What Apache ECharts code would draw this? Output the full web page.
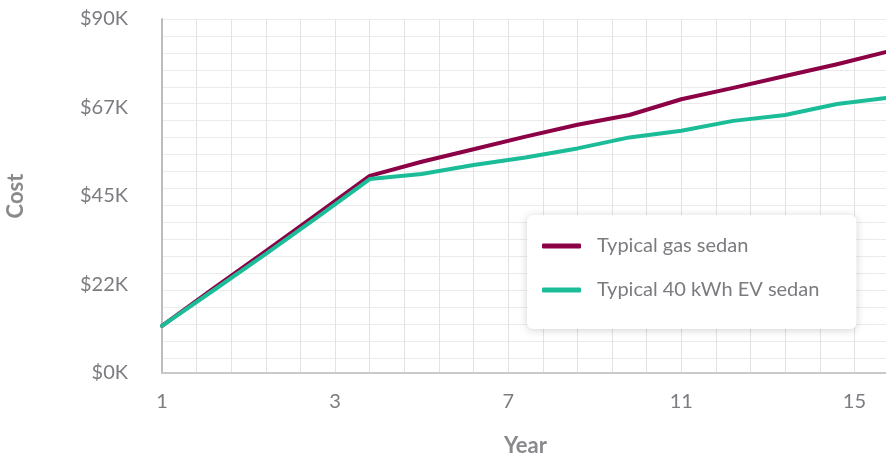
<!DOCTYPE html>
<html>
<head>
<meta charset="utf-8">
<script src="https://cdn.jsdelivr.net/npm/echarts@6/dist/echarts.min.js"></script>
<style>
html,body{margin:0;padding:0;background:#fff;}
#chart{width:886px;height:455px;}
</style>
</head>
<body>
<div id="chart"></div>
<script>
// Data
const years = ['1','2','3','4','5','6','7','8','9','10','11','12','13','14','15'];
const gasSedan = [12000, 21600, 31000, 40500, 50100, 53700, 56900, 60100, 63100, 65600, 69600, 72500, 75500, 78500, 81800];
const evSedan  = [12000, 21100, 30300, 39700, 49300, 50600, 52900, 54800, 57100, 59900, 61600, 64100, 65600, 68400, 70000];
const xTickLabels = ['1', '3', '7', '11', '15'];
const seriesNames = ['Typical gas sedan', 'Typical 40 kWh EV sedan'];

const FONT = 'Lato';
const chart = echarts.init(document.getElementById('chart'));
chart.setOption({
  animation: false,
  backgroundColor: '#fff',
  grid: { left: 162, right: -3, top: 19, bottom: 82, containLabel: false, outerBoundsMode: 'none' },
  legend: {
    orient: 'vertical',
    left: 527, top: 215,
    padding: [21, 37, 29, 15],
    itemGap: 24,
    itemWidth: 39, itemHeight: 5,
    icon: 'roundRect',
    backgroundColor: '#fff',
    borderRadius: 6,
    shadowBlur: 8,
    shadowColor: 'rgba(0,0,0,0.18)',
    shadowOffsetX: 0, shadowOffsetY: 1,
    itemStyle: { borderWidth: 0 },
    lineStyle: { width: 0 },
    textStyle: { fontFamily: FONT, fontSize: 20, color: '#7b7b80', padding: [0,0,0,11] },
    data: seriesNames
  },
  xAxis: [
    {
      type: 'value', min: 0, max: 21, interval: 1,
      axisLine: { show: true, onZero: false, lineStyle: { color: '#c9c9c9', width: 2 } },
      axisTick: { show: false },
      splitLine: { show: true, lineStyle: { color: '#e3e3e3', width: 1 } },
      axisLabel: {
        fontFamily: FONT, fontSize: 20, color: '#7b7b80', margin: 19,
        formatter: v => (v % 5 === 0 ? xTickLabels[v / 5] : '')
      },
      name: 'Year', nameLocation: 'middle', nameGap: 62,
      nameTextStyle: { fontFamily: FONT, fontSize: 22, fontWeight: 'bold', color: '#8a8a8e' }
    },
    {
      type: 'category', data: years, boundaryGap: false, show: false
    }
  ],
  yAxis: [
    {
      type: 'value', min: 0, max: 90000, interval: 22500,
      axisLine: { show: true, lineStyle: { color: '#bdbdbd', width: 2 } },
      axisTick: { show: false },
      splitLine: { show: false },
      axisLabel: {
        fontFamily: FONT, fontSize: 20, color: '#7b7b80', margin: 34,
        formatter: v => '$' + Math.floor(v / 1000) + 'K'
      },
      name: 'Cost', nameLocation: 'middle', nameGap: 135, nameRotate: 90,
      nameTextStyle: { fontFamily: FONT, fontSize: 22, fontWeight: 'bold', color: '#8a8a8e' }
    },
    {
      type: 'value', inverse: true, min: 0, max: 20.9, interval: 1,
      axisLine: { show: false }, axisTick: { show: false }, axisLabel: { show: false },
      splitLine: { show: true, lineStyle: { color: '#ebebeb', width: 1 } }
    }
  ],
  series: [
    {
      name: seriesNames[0], type: 'line', xAxisIndex: 1, yAxisIndex: 0,
      data: gasSedan, showSymbol: false, symbol: 'none', z: 3,
      lineStyle: { color: '#8c0046', width: 4, cap: 'round', join: 'round' },
      itemStyle: { color: '#8c0046' }
    },
    {
      name: seriesNames[1], type: 'line', xAxisIndex: 1, yAxisIndex: 0,
      data: evSedan, showSymbol: false, symbol: 'none', z: 4,
      lineStyle: { color: '#1bbc98', width: 4, cap: 'round', join: 'round' },
      itemStyle: { color: '#1bbc98' }
    }
  ]
});
</script>
</body>
</html>
